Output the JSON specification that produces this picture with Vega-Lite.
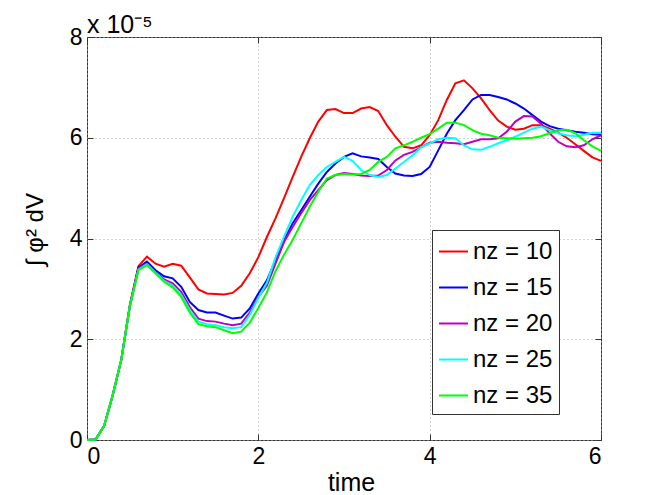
{
  "$schema": "https://vega.github.io/schema/vega-lite/v6.json",
  "width": 514,
  "height": 403,
  "autosize": {"type": "none"},
  "padding": {"left": 87, "top": 37, "right": 63, "bottom": 55},
  "background": "white",
  "title": {"text": "x 10⁻⁵", "anchor": "start", "frame": "group", "fontSize": 25, "font": "Liberation Sans", "fontWeight": "normal", "offset": 6, "dy": 18, "color": "black"},
  "config": {
    "view": {"stroke": "#333", "strokeWidth": 1},
    "axis": {
      "labelFont": "Liberation Sans", "labelFontSize": 23, "labelColor": "black",
      "titleFont": "Liberation Sans", "titleFontSize": 24, "titleFontWeight": "normal", "titleColor": "black",
      "domainColor": "#333", "tickColor": "#333", "tickSize": -6, "labelPadding": 11,
      "gridColor": "#aaa", "gridDash": [1, 3], "gridWidth": 1
    }
  },
  "data": {"values": [
{"t":0,"nz":"nz = 10","v":0},{"t":0.1,"nz":"nz = 10","v":0.01},{"t":0.2,"nz":"nz = 10","v":0.28},{"t":0.3,"nz":"nz = 10","v":0.89},{"t":0.4,"nz":"nz = 10","v":1.59},{"t":0.5,"nz":"nz = 10","v":2.68},{"t":0.6,"nz":"nz = 10","v":3.45},{"t":0.7,"nz":"nz = 10","v":3.64},{"t":0.8,"nz":"nz = 10","v":3.5},{"t":0.9,"nz":"nz = 10","v":3.44},{"t":1.0,"nz":"nz = 10","v":3.5},{"t":1.1,"nz":"nz = 10","v":3.46},{"t":1.2,"nz":"nz = 10","v":3.23},{"t":1.3,"nz":"nz = 10","v":2.99},{"t":1.4,"nz":"nz = 10","v":2.91},{"t":1.5,"nz":"nz = 10","v":2.9},{"t":1.6,"nz":"nz = 10","v":2.89},{"t":1.7,"nz":"nz = 10","v":2.92},{"t":1.8,"nz":"nz = 10","v":3.06},{"t":1.9,"nz":"nz = 10","v":3.31},{"t":2.0,"nz":"nz = 10","v":3.63},{"t":2.1,"nz":"nz = 10","v":4.03},{"t":2.2,"nz":"nz = 10","v":4.4},{"t":2.3,"nz":"nz = 10","v":4.8},{"t":2.4,"nz":"nz = 10","v":5.22},{"t":2.5,"nz":"nz = 10","v":5.62},{"t":2.6,"nz":"nz = 10","v":5.99},{"t":2.7,"nz":"nz = 10","v":6.32},{"t":2.8,"nz":"nz = 10","v":6.55},{"t":2.9,"nz":"nz = 10","v":6.57},{"t":3.0,"nz":"nz = 10","v":6.49},{"t":3.1,"nz":"nz = 10","v":6.49},{"t":3.2,"nz":"nz = 10","v":6.58},{"t":3.3,"nz":"nz = 10","v":6.61},{"t":3.4,"nz":"nz = 10","v":6.53},{"t":3.5,"nz":"nz = 10","v":6.25},{"t":3.6,"nz":"nz = 10","v":6.02},{"t":3.7,"nz":"nz = 10","v":5.82},{"t":3.8,"nz":"nz = 10","v":5.79},{"t":3.9,"nz":"nz = 10","v":5.85},{"t":4.0,"nz":"nz = 10","v":6.05},{"t":4.1,"nz":"nz = 10","v":6.35},{"t":4.2,"nz":"nz = 10","v":6.75},{"t":4.3,"nz":"nz = 10","v":7.08},{"t":4.4,"nz":"nz = 10","v":7.14},{"t":4.5,"nz":"nz = 10","v":6.98},{"t":4.6,"nz":"nz = 10","v":6.78},{"t":4.7,"nz":"nz = 10","v":6.55},{"t":4.8,"nz":"nz = 10","v":6.34},{"t":4.9,"nz":"nz = 10","v":6.22},{"t":5.0,"nz":"nz = 10","v":6.16},{"t":5.1,"nz":"nz = 10","v":6.18},{"t":5.2,"nz":"nz = 10","v":6.25},{"t":5.3,"nz":"nz = 10","v":6.25},{"t":5.4,"nz":"nz = 10","v":6.18},{"t":5.5,"nz":"nz = 10","v":6.1},{"t":5.6,"nz":"nz = 10","v":6.0},{"t":5.7,"nz":"nz = 10","v":5.87},{"t":5.8,"nz":"nz = 10","v":5.74},{"t":5.9,"nz":"nz = 10","v":5.61},{"t":6.0,"nz":"nz = 10","v":5.54},
{"t":0,"nz":"nz = 15","v":0},{"t":0.1,"nz":"nz = 15","v":0.01},{"t":0.2,"nz":"nz = 15","v":0.28},{"t":0.3,"nz":"nz = 15","v":0.89},{"t":0.4,"nz":"nz = 15","v":1.59},{"t":0.5,"nz":"nz = 15","v":2.66},{"t":0.6,"nz":"nz = 15","v":3.42},{"t":0.7,"nz":"nz = 15","v":3.54},{"t":0.8,"nz":"nz = 15","v":3.37},{"t":0.9,"nz":"nz = 15","v":3.25},{"t":1.0,"nz":"nz = 15","v":3.21},{"t":1.1,"nz":"nz = 15","v":3.04},{"t":1.2,"nz":"nz = 15","v":2.74},{"t":1.3,"nz":"nz = 15","v":2.58},{"t":1.4,"nz":"nz = 15","v":2.53},{"t":1.5,"nz":"nz = 15","v":2.53},{"t":1.6,"nz":"nz = 15","v":2.47},{"t":1.7,"nz":"nz = 15","v":2.41},{"t":1.8,"nz":"nz = 15","v":2.43},{"t":1.9,"nz":"nz = 15","v":2.61},{"t":2.0,"nz":"nz = 15","v":2.91},{"t":2.1,"nz":"nz = 15","v":3.17},{"t":2.2,"nz":"nz = 15","v":3.57},{"t":2.3,"nz":"nz = 15","v":3.97},{"t":2.4,"nz":"nz = 15","v":4.3},{"t":2.5,"nz":"nz = 15","v":4.56},{"t":2.6,"nz":"nz = 15","v":4.83},{"t":2.7,"nz":"nz = 15","v":5.09},{"t":2.8,"nz":"nz = 15","v":5.32},{"t":2.9,"nz":"nz = 15","v":5.49},{"t":3.0,"nz":"nz = 15","v":5.62},{"t":3.1,"nz":"nz = 15","v":5.69},{"t":3.2,"nz":"nz = 15","v":5.63},{"t":3.3,"nz":"nz = 15","v":5.61},{"t":3.4,"nz":"nz = 15","v":5.58},{"t":3.5,"nz":"nz = 15","v":5.42},{"t":3.6,"nz":"nz = 15","v":5.29},{"t":3.7,"nz":"nz = 15","v":5.25},{"t":3.8,"nz":"nz = 15","v":5.24},{"t":3.9,"nz":"nz = 15","v":5.28},{"t":4.0,"nz":"nz = 15","v":5.42},{"t":4.1,"nz":"nz = 15","v":5.75},{"t":4.2,"nz":"nz = 15","v":6.08},{"t":4.3,"nz":"nz = 15","v":6.35},{"t":4.4,"nz":"nz = 15","v":6.55},{"t":4.5,"nz":"nz = 15","v":6.76},{"t":4.6,"nz":"nz = 15","v":6.85},{"t":4.7,"nz":"nz = 15","v":6.85},{"t":4.8,"nz":"nz = 15","v":6.81},{"t":4.9,"nz":"nz = 15","v":6.76},{"t":5.0,"nz":"nz = 15","v":6.68},{"t":5.1,"nz":"nz = 15","v":6.58},{"t":5.2,"nz":"nz = 15","v":6.45},{"t":5.3,"nz":"nz = 15","v":6.32},{"t":5.4,"nz":"nz = 15","v":6.23},{"t":5.5,"nz":"nz = 15","v":6.18},{"t":5.6,"nz":"nz = 15","v":6.15},{"t":5.7,"nz":"nz = 15","v":6.12},{"t":5.8,"nz":"nz = 15","v":6.1},{"t":5.9,"nz":"nz = 15","v":6.07},{"t":6.0,"nz":"nz = 15","v":6.06},
{"t":0,"nz":"nz = 20","v":0},{"t":0.1,"nz":"nz = 20","v":0.01},{"t":0.2,"nz":"nz = 20","v":0.28},{"t":0.3,"nz":"nz = 20","v":0.89},{"t":0.4,"nz":"nz = 20","v":1.59},{"t":0.5,"nz":"nz = 20","v":2.65},{"t":0.6,"nz":"nz = 20","v":3.4},{"t":0.7,"nz":"nz = 20","v":3.5},{"t":0.8,"nz":"nz = 20","v":3.33},{"t":0.9,"nz":"nz = 20","v":3.19},{"t":1.0,"nz":"nz = 20","v":3.11},{"t":1.1,"nz":"nz = 20","v":2.94},{"t":1.2,"nz":"nz = 20","v":2.64},{"t":1.3,"nz":"nz = 20","v":2.41},{"t":1.4,"nz":"nz = 20","v":2.36},{"t":1.5,"nz":"nz = 20","v":2.35},{"t":1.6,"nz":"nz = 20","v":2.31},{"t":1.7,"nz":"nz = 20","v":2.28},{"t":1.8,"nz":"nz = 20","v":2.31},{"t":1.9,"nz":"nz = 20","v":2.53},{"t":2.0,"nz":"nz = 20","v":2.84},{"t":2.1,"nz":"nz = 20","v":3.06},{"t":2.2,"nz":"nz = 20","v":3.5},{"t":2.3,"nz":"nz = 20","v":3.93},{"t":2.4,"nz":"nz = 20","v":4.23},{"t":2.5,"nz":"nz = 20","v":4.5},{"t":2.6,"nz":"nz = 20","v":4.76},{"t":2.7,"nz":"nz = 20","v":4.96},{"t":2.8,"nz":"nz = 20","v":5.16},{"t":2.9,"nz":"nz = 20","v":5.26},{"t":3.0,"nz":"nz = 20","v":5.3},{"t":3.1,"nz":"nz = 20","v":5.28},{"t":3.2,"nz":"nz = 20","v":5.25},{"t":3.3,"nz":"nz = 20","v":5.24},{"t":3.4,"nz":"nz = 20","v":5.25},{"t":3.5,"nz":"nz = 20","v":5.36},{"t":3.6,"nz":"nz = 20","v":5.55},{"t":3.7,"nz":"nz = 20","v":5.66},{"t":3.8,"nz":"nz = 20","v":5.72},{"t":3.9,"nz":"nz = 20","v":5.81},{"t":4.0,"nz":"nz = 20","v":5.9},{"t":4.1,"nz":"nz = 20","v":5.92},{"t":4.2,"nz":"nz = 20","v":5.9},{"t":4.3,"nz":"nz = 20","v":5.89},{"t":4.4,"nz":"nz = 20","v":5.87},{"t":4.5,"nz":"nz = 20","v":5.92},{"t":4.6,"nz":"nz = 20","v":5.97},{"t":4.7,"nz":"nz = 20","v":5.97},{"t":4.8,"nz":"nz = 20","v":5.99},{"t":4.9,"nz":"nz = 20","v":6.12},{"t":5.0,"nz":"nz = 20","v":6.32},{"t":5.1,"nz":"nz = 20","v":6.43},{"t":5.2,"nz":"nz = 20","v":6.42},{"t":5.3,"nz":"nz = 20","v":6.28},{"t":5.4,"nz":"nz = 20","v":6.09},{"t":5.5,"nz":"nz = 20","v":5.92},{"t":5.6,"nz":"nz = 20","v":5.83},{"t":5.7,"nz":"nz = 20","v":5.81},{"t":5.8,"nz":"nz = 20","v":5.85},{"t":5.9,"nz":"nz = 20","v":5.97},{"t":6.0,"nz":"nz = 20","v":6.05},
{"t":0,"nz":"nz = 25","v":0},{"t":0.1,"nz":"nz = 25","v":0.01},{"t":0.2,"nz":"nz = 25","v":0.28},{"t":0.3,"nz":"nz = 25","v":0.89},{"t":0.4,"nz":"nz = 25","v":1.59},{"t":0.5,"nz":"nz = 25","v":2.65},{"t":0.6,"nz":"nz = 25","v":3.38},{"t":0.7,"nz":"nz = 25","v":3.49},{"t":0.8,"nz":"nz = 25","v":3.32},{"t":0.9,"nz":"nz = 25","v":3.16},{"t":1.0,"nz":"nz = 25","v":3.06},{"t":1.1,"nz":"nz = 25","v":2.88},{"t":1.2,"nz":"nz = 25","v":2.58},{"t":1.3,"nz":"nz = 25","v":2.35},{"t":1.4,"nz":"nz = 25","v":2.3},{"t":1.5,"nz":"nz = 25","v":2.28},{"t":1.6,"nz":"nz = 25","v":2.24},{"t":1.7,"nz":"nz = 25","v":2.22},{"t":1.8,"nz":"nz = 25","v":2.24},{"t":1.9,"nz":"nz = 25","v":2.48},{"t":2.0,"nz":"nz = 25","v":2.82},{"t":2.1,"nz":"nz = 25","v":3.12},{"t":2.2,"nz":"nz = 25","v":3.62},{"t":2.3,"nz":"nz = 25","v":4.03},{"t":2.4,"nz":"nz = 25","v":4.43},{"t":2.5,"nz":"nz = 25","v":4.76},{"t":2.6,"nz":"nz = 25","v":5.06},{"t":2.7,"nz":"nz = 25","v":5.26},{"t":2.8,"nz":"nz = 25","v":5.42},{"t":2.9,"nz":"nz = 25","v":5.52},{"t":3.0,"nz":"nz = 25","v":5.62},{"t":3.1,"nz":"nz = 25","v":5.54},{"t":3.2,"nz":"nz = 25","v":5.36},{"t":3.3,"nz":"nz = 25","v":5.26},{"t":3.4,"nz":"nz = 25","v":5.22},{"t":3.5,"nz":"nz = 25","v":5.26},{"t":3.6,"nz":"nz = 25","v":5.39},{"t":3.7,"nz":"nz = 25","v":5.52},{"t":3.8,"nz":"nz = 25","v":5.65},{"t":3.9,"nz":"nz = 25","v":5.81},{"t":4.0,"nz":"nz = 25","v":5.89},{"t":4.1,"nz":"nz = 25","v":5.97},{"t":4.2,"nz":"nz = 25","v":6.0},{"t":4.3,"nz":"nz = 25","v":5.99},{"t":4.4,"nz":"nz = 25","v":5.85},{"t":4.5,"nz":"nz = 25","v":5.77},{"t":4.6,"nz":"nz = 25","v":5.76},{"t":4.7,"nz":"nz = 25","v":5.82},{"t":4.8,"nz":"nz = 25","v":5.89},{"t":4.9,"nz":"nz = 25","v":5.95},{"t":5.0,"nz":"nz = 25","v":6.02},{"t":5.1,"nz":"nz = 25","v":6.1},{"t":5.2,"nz":"nz = 25","v":6.18},{"t":5.3,"nz":"nz = 25","v":6.22},{"t":5.4,"nz":"nz = 25","v":6.15},{"t":5.5,"nz":"nz = 25","v":6.09},{"t":5.6,"nz":"nz = 25","v":6.05},{"t":5.7,"nz":"nz = 25","v":6.03},{"t":5.8,"nz":"nz = 25","v":6.06},{"t":5.9,"nz":"nz = 25","v":6.1},{"t":6.0,"nz":"nz = 25","v":6.1},
{"t":0,"nz":"nz = 35","v":0},{"t":0.1,"nz":"nz = 35","v":0.01},{"t":0.2,"nz":"nz = 35","v":0.28},{"t":0.3,"nz":"nz = 35","v":0.89},{"t":0.4,"nz":"nz = 35","v":1.59},{"t":0.5,"nz":"nz = 35","v":2.65},{"t":0.6,"nz":"nz = 35","v":3.37},{"t":0.7,"nz":"nz = 35","v":3.47},{"t":0.8,"nz":"nz = 35","v":3.31},{"t":0.9,"nz":"nz = 35","v":3.14},{"t":1.0,"nz":"nz = 35","v":3.03},{"t":1.1,"nz":"nz = 35","v":2.84},{"t":1.2,"nz":"nz = 35","v":2.53},{"t":1.3,"nz":"nz = 35","v":2.3},{"t":1.4,"nz":"nz = 35","v":2.26},{"t":1.5,"nz":"nz = 35","v":2.24},{"t":1.6,"nz":"nz = 35","v":2.18},{"t":1.7,"nz":"nz = 35","v":2.12},{"t":1.8,"nz":"nz = 35","v":2.15},{"t":1.9,"nz":"nz = 35","v":2.33},{"t":2.0,"nz":"nz = 35","v":2.62},{"t":2.1,"nz":"nz = 35","v":2.93},{"t":2.2,"nz":"nz = 35","v":3.35},{"t":2.3,"nz":"nz = 35","v":3.68},{"t":2.4,"nz":"nz = 35","v":3.97},{"t":2.5,"nz":"nz = 35","v":4.3},{"t":2.6,"nz":"nz = 35","v":4.63},{"t":2.7,"nz":"nz = 35","v":4.93},{"t":2.8,"nz":"nz = 35","v":5.19},{"t":2.9,"nz":"nz = 35","v":5.26},{"t":3.0,"nz":"nz = 35","v":5.28},{"t":3.1,"nz":"nz = 35","v":5.27},{"t":3.2,"nz":"nz = 35","v":5.28},{"t":3.3,"nz":"nz = 35","v":5.36},{"t":3.4,"nz":"nz = 35","v":5.52},{"t":3.5,"nz":"nz = 35","v":5.62},{"t":3.6,"nz":"nz = 35","v":5.79},{"t":3.7,"nz":"nz = 35","v":5.85},{"t":3.8,"nz":"nz = 35","v":5.92},{"t":3.9,"nz":"nz = 35","v":6.0},{"t":4.0,"nz":"nz = 35","v":6.07},{"t":4.1,"nz":"nz = 35","v":6.18},{"t":4.2,"nz":"nz = 35","v":6.3},{"t":4.3,"nz":"nz = 35","v":6.3},{"t":4.4,"nz":"nz = 35","v":6.25},{"t":4.5,"nz":"nz = 35","v":6.15},{"t":4.6,"nz":"nz = 35","v":6.08},{"t":4.7,"nz":"nz = 35","v":6.05},{"t":4.8,"nz":"nz = 35","v":6.0},{"t":4.9,"nz":"nz = 35","v":5.99},{"t":5.0,"nz":"nz = 35","v":5.98},{"t":5.1,"nz":"nz = 35","v":5.99},{"t":5.2,"nz":"nz = 35","v":6.0},{"t":5.3,"nz":"nz = 35","v":6.03},{"t":5.4,"nz":"nz = 35","v":6.09},{"t":5.5,"nz":"nz = 35","v":6.15},{"t":5.6,"nz":"nz = 35","v":6.16},{"t":5.7,"nz":"nz = 35","v":6.09},{"t":5.8,"nz":"nz = 35","v":5.95},{"t":5.9,"nz":"nz = 35","v":5.83},{"t":6.0,"nz":"nz = 35","v":5.74}
  ]},
  "layer": [
    {
      "mark": {"type": "line", "strokeWidth": 2},
      "encoding": {
        "x": {"field": "t", "type": "quantitative", "scale": {"domain": [0, 6], "nice": false},
              "axis": {"orient": "bottom", "values": [0, 2, 4, 6], "title": "time", "grid": true, "titlePadding": 2, "titleFontSize": 25, "titleX": 264, "domain": false}},
        "y": {"field": "v", "type": "quantitative", "scale": {"domain": [0, 8], "nice": false},
              "axis": {"orient": "left", "values": [0, 2, 4, 6, 8], "title": "∫ φ² dV", "grid": true, "titlePadding": 22, "titleY": 192, "domain": false}},
        "color": {"field": "nz", "type": "nominal",
                  "scale": {"domain": ["nz = 10", "nz = 15", "nz = 20", "nz = 25", "nz = 35"], "range": ["#ff0000", "#0000ff", "#bf00bf", "#00ffff", "#00ff00"]},
                  "legend": {"orient": "none", "legendX": 345, "legendY": 193, "title": null, "symbolType": "stroke", "symbolSize": 841, "symbolStrokeWidth": 2,
                             "labelFontSize": 24, "labelFont": "Liberation Sans", "labelColor": "black", "fillColor": "white", "strokeColor": "#333",
                             "padding": 6, "rowPadding": 8, "labelOffset": 4, "labelExpr": "datum.label + '\u00a0\u00a0'"}}
      }
    },
    {
      "mark": {"type": "line", "opacity": 0},
      "encoding": {
        "x": {"field": "t", "type": "quantitative", "axis": {"orient": "top", "values": [0, 2, 4, 6], "labels": false, "title": null, "grid": false, "domain": false}},
        "y": {"field": "v", "type": "quantitative", "axis": {"orient": "right", "values": [0, 2, 4, 6, 8], "labels": false, "title": null, "grid": false, "domain": false}},
        "detail": {"field": "nz"}
      }
    }
  ],
  "resolve": {"axis": {"x": "independent", "y": "independent"}}
}
